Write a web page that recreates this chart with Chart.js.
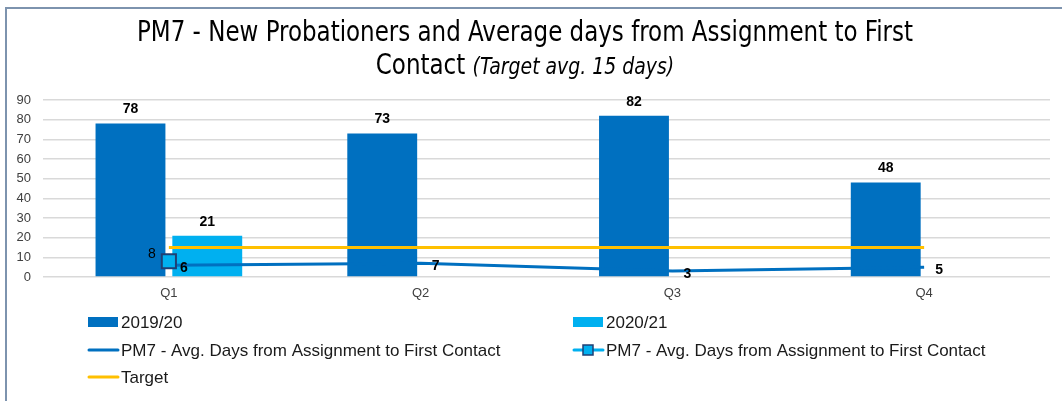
<!DOCTYPE html>
<html>
<head>
<meta charset="utf-8">
<script src="https://cdn.jsdelivr.net/npm/chart.js@4.4.1/dist/chart.umd.min.js"></script>
<style>
  body { margin: 0; background: #fff; }
  #wrap { position: relative; width: 1062px; height: 401px; overflow: hidden; }
  #frame { position: absolute; left: 5px; top: 7px; width: 1200px; height: 500px;
           border-left: 2px solid #7d93ae; border-top: 2px solid #7d93ae; pointer-events: none; }
</style>
</head>
<body>
<div id="wrap">
  <canvas id="myChart" width="1062" height="401"></canvas>
  <div id="frame"></div>
</div>
<script>
// chart data
var quarters = ['Q1', 'Q2', 'Q3', 'Q4'];
var newProb1920 = [78, 73, 82, 48];
var newProb2021 = [21, null, null, null];
var avgDays1920 = [6, 7, 3, 5];
var avgDays2021 = [8, null, null, null];
var targetDays = [15, 15, 15, 15];

var titleLine1 = 'PM7 - New Probationers and Average days from Assignment to First';
var titleLine2a = 'Contact ';
var titleLine2b = '(Target avg. 15 days)';

var darkBlue = '#0070C0';
var lightBlue = '#00B0F0';
var gold = '#FFC000';
var narrow = '"DejaVu Sans Condensed", "Liberation Sans", sans-serif';
var regular = '"Liberation Sans", Arial, sans-serif';

// draws the numbers next to bars and points
var valueLabels = {
  id: 'valueLabels',
  afterDatasetsDraw: function(chart) {
    var ctx = chart.ctx;
    chart.data.datasets.forEach(function(ds, i) {
      if (!ds.valueLabel) return;
      var meta = chart.getDatasetMeta(i);
      meta.data.forEach(function(el, j) {
        var v = ds.data[j];
        if (v == null) return;
        ctx.save();
        ctx.font = ds.valueLabel.font;
        ctx.fillStyle = '#000';
        ctx.textAlign = ds.valueLabel.align;
        ctx.textBaseline = 'middle';
        ctx.fillText(String(v), el.x + ds.valueLabel.dx, el.y + ds.valueLabel.dy);
        ctx.restore();
      });
    });
  }
};

// title with an italic part, squeezed to the reference width
var mixedTitle = {
  id: 'mixedTitle',
  afterDraw: function(chart) {
    var ctx = chart.ctx;
    var cx = 525;
    var f1 = '28px ' + narrow;
    var f2 = 'italic 23px ' + narrow;
    ctx.save();
    ctx.fillStyle = '#000';
    ctx.textBaseline = 'middle';
    ctx.textAlign = 'left';
    ctx.font = f1;
    var full = ctx.measureText(titleLine1).width;
    var k = 776 / full;
    var w1 = ctx.measureText(titleLine2a).width;
    ctx.font = f2;
    var w2 = ctx.measureText(titleLine2b).width;
    ctx.translate(cx, 0);
    ctx.scale(k, 1);
    ctx.font = f1;
    ctx.fillText(titleLine1, -full / 2, 34);
    var x0 = -(w1 + w2) / 2;
    ctx.fillText(titleLine2a, x0, 67);
    ctx.font = f2;
    ctx.fillText(titleLine2b, x0 + w1, 68);
    ctx.restore();
  }
};

// legend laid out in two columns
var gridLegend = {
  id: 'gridLegend',
  afterDraw: function(chart) {
    var ctx = chart.ctx;
    var cols = [88, 573];
    var rows = [322, 350, 377];
    ctx.save();
    chart.data.datasets.forEach(function(ds, i) {
      var x = cols[i % 2];
      var y = rows[Math.floor(i / 2)];
      if (ds.type === 'bar') {
        ctx.fillStyle = ds.backgroundColor;
        ctx.fillRect(x, y - 5, 30, 10);
      } else {
        ctx.strokeStyle = ds.borderColor;
        ctx.lineWidth = 3;
        ctx.lineCap = 'round';
        ctx.beginPath();
        ctx.moveTo(x + 1, y);
        ctx.lineTo(x + 30, y);
        ctx.stroke();
        if (ds.pointRadius > 0) {
          ctx.fillStyle = ds.pointBackgroundColor;
          ctx.strokeStyle = ds.pointBorderColor;
          ctx.lineWidth = 1.5;
          ctx.fillRect(x + 10, y - 5, 10, 10);
          ctx.strokeRect(x + 10, y - 5, 10, 10);
        }
      }
      ctx.fillStyle = '#1a1a1a';
      ctx.font = '17px ' + regular;
      ctx.textBaseline = 'middle';
      ctx.textAlign = 'left';
      ctx.fillText(ds.label, x + 33, y + 1);
    });
    ctx.restore();
  }
};

var ctx = document.getElementById('myChart').getContext('2d');
var chart = new Chart(ctx, {
  type: 'bar',
  data: {
    labels: quarters,
    datasets: [{
      type: 'bar',
      label: '2019/20',
      data: newProb1920,
      backgroundColor: darkBlue,
      barPercentage: 0.91,
      categoryPercentage: 0.61,
      order: 2,
      valueLabel: { font: 'bold 14px ' + regular, align: 'center', dx: 0, dy: -14 }
    }, {
      type: 'bar',
      label: '2020/21',
      data: newProb2021,
      backgroundColor: lightBlue,
      barPercentage: 0.91,
      categoryPercentage: 0.61,
      order: 2,
      valueLabel: { font: 'bold 14px ' + regular, align: 'center', dx: 0, dy: -14 }
    }, {
      type: 'line',
      label: 'PM7 - Avg. Days from Assignment to First Contact',
      data: avgDays1920,
      borderColor: darkBlue,
      backgroundColor: darkBlue,
      borderWidth: 3,
      pointRadius: 0,
      order: 1,
      valueLabel: { font: 'bold 14px ' + regular, align: 'left', dx: 11, dy: 3 }
    }, {
      type: 'line',
      label: 'PM7 - Avg. Days from Assignment to First Contact',
      data: avgDays2021,
      borderColor: lightBlue,
      backgroundColor: lightBlue,
      borderWidth: 3,
      pointStyle: 'rect',
      pointRadius: 10,
      pointBorderWidth: 2,
      pointBackgroundColor: lightBlue,
      pointBorderColor: '#1f3f74',
      order: 0,
      valueLabel: { font: '14px ' + regular, align: 'right', dx: -13, dy: -7 }
    }, {
      type: 'line',
      label: 'Target',
      data: targetDays,
      borderColor: gold,
      backgroundColor: gold,
      borderWidth: 3,
      pointRadius: 0,
      order: 1
    }]
  },
  options: {
    responsive: false,
    animation: false,
    layout: { padding: { left: 6, right: 9, top: 100, bottom: 100 } },
    plugins: {
      legend: { display: false },
      title: { display: false },
      tooltip: { enabled: false }
    },
    scales: {
      x: {
        grid: { display: false, drawTicks: false },
        border: { display: false },
        ticks: { color: '#404040', font: { family: regular, size: 13 }, padding: 9 },
        afterFit: function(s) { s.height = 24; }
      },
      y: {
        min: 0,
        max: 90,
        ticks: { stepSize: 10, color: '#404040', font: { family: regular, size: 13 }, padding: 12 },
        grid: { color: '#d9d9d9', lineWidth: 1.5, drawTicks: false },
        border: { display: false },
        afterFit: function(s) { s.width = 37; }
      }
    }
  },
  plugins: [valueLabels, mixedTitle, gridLegend]
});
</script>
</body>
</html>
